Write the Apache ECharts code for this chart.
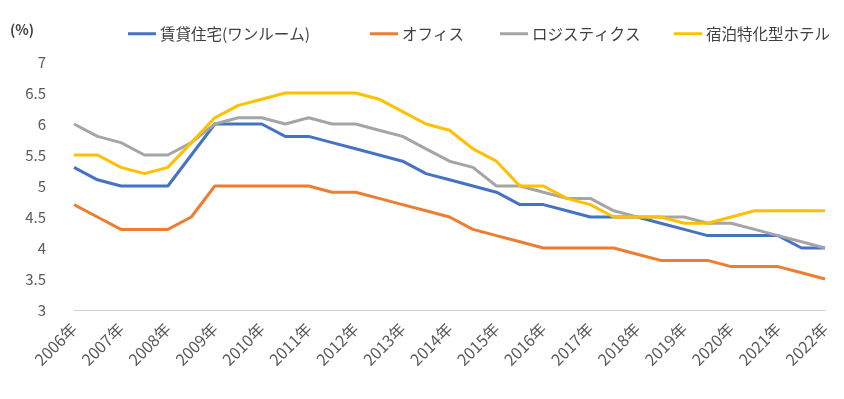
<!DOCTYPE html>
<html lang="ja">
<head>
<meta charset="UTF-8">
<title>期待利回り推移</title>
<script src="https://cdn.jsdelivr.net/npm/echarts@6/dist/echarts.min.js"></script>
<style>
  html, body { margin: 0; padding: 0; background: #fff; }
  #main { width: 844px; height: 399px; }
</style>
</head>
<body>
<div id="main"></div>
<script type="text/javascript">
// 半期ごとのデータ（2006年〜2022年）
var years = ['2006年','2007年','2008年','2009年','2010年','2011年','2012年','2013年','2014年',
             '2015年','2016年','2017年','2018年','2019年','2020年','2021年','2022年'];

var rental = [5.3,5.1,5.0,5.0,5.0,5.5,6.0,6.0,6.0,5.8,5.8,5.7,5.6,5.5,5.4,5.2,5.1,5.0,4.9,4.7,4.7,4.6,4.5,4.5,4.5,4.4,4.3,4.2,4.2,4.2,4.2,4.0,4.0];
var office = [4.7,4.5,4.3,4.3,4.3,4.5,5.0,5.0,5.0,5.0,5.0,4.9,4.9,4.8,4.7,4.6,4.5,4.3,4.2,4.1,4.0,4.0,4.0,4.0,3.9,3.8,3.8,3.8,3.7,3.7,3.7,3.6,3.5];
var logistics = [6.0,5.8,5.7,5.5,5.5,5.7,6.0,6.1,6.1,6.0,6.1,6.0,6.0,5.9,5.8,5.6,5.4,5.3,5.0,5.0,4.9,4.8,4.8,4.6,4.5,4.5,4.5,4.4,4.4,4.3,4.2,4.1,4.0];
var hotel = [5.5,5.5,5.3,5.2,5.3,5.7,6.1,6.3,6.4,6.5,6.5,6.5,6.5,6.4,6.2,6.0,5.9,5.6,5.4,5.0,5.0,4.8,4.7,4.5,4.5,4.5,4.4,4.4,4.5,4.6,4.6,4.6,4.6];

var names = ['賃貸住宅(ワンルーム)', 'オフィス', 'ロジスティクス', '宿泊特化型ホテル'];
var colors = ['#4472C4', '#ED7D31', '#A5A5A5', '#FFC000'];

// 年ラベルは上期のみ、下期は空
var categories = [];
years.forEach(function (y, i) {
    categories.push(y);
    if (i < years.length - 1) categories.push('');
});

var myChart = echarts.init(document.getElementById('main'));
var font = '"Noto Sans CJK JP", "Noto Sans", sans-serif';

function line(name, data, color) {
    return {
        name: name,
        type: 'line',
        data: data,
        symbol: 'none',
        lineStyle: { width: 3, color: color },
        itemStyle: { color: color }
    };
}

// 凡例は項目ごとに位置を指定
var legendLeft = [123, 365, 495, 669];
var legends = names.map(function (n, i) {
    return {
        left: legendLeft[i],
        top: 21,
        icon: 'rect',
        itemWidth: 28,
        itemHeight: 3,
        itemGap: 4,
        textStyle: { fontSize: 15.5, color: '#404040', fontFamily: font, padding: [0, 0, 0, -1] },
        data: [n]
    };
});

var option = {
    animation: false,
    title: {
        text: '(%)',
        left: 5,
        top: 18,
        textStyle: { fontSize: 14, fontWeight: 'bold', color: '#404040', fontFamily: font }
    },
    legend: legends,
    grid: { left: 74, right: 19, top: 62, bottom: 89 },
    xAxis: {
        type: 'category',
        boundaryGap: false,
        data: categories,
        axisLine: { lineStyle: { color: '#d0d0d0', width: 1 } },
        axisTick: { show: false },
        axisLabel: {
            interval: 0,
            rotate: 45,
            fontSize: 16,
            color: '#595959',
            fontFamily: font,
            margin: 16
        }
    },
    yAxis: {
        type: 'value',
        min: 3,
        max: 7,
        interval: 0.5,
        axisLine: { show: false },
        axisTick: { show: false },
        splitLine: { show: false },
        axisLabel: { fontSize: 15, color: '#595959', fontFamily: font, margin: 28 }
    },
    series: names.map(function (n, i) {
        return line(n, [rental, office, logistics, hotel][i], colors[i]);
    })
};
myChart.setOption(option);
</script>
</body>
</html>
